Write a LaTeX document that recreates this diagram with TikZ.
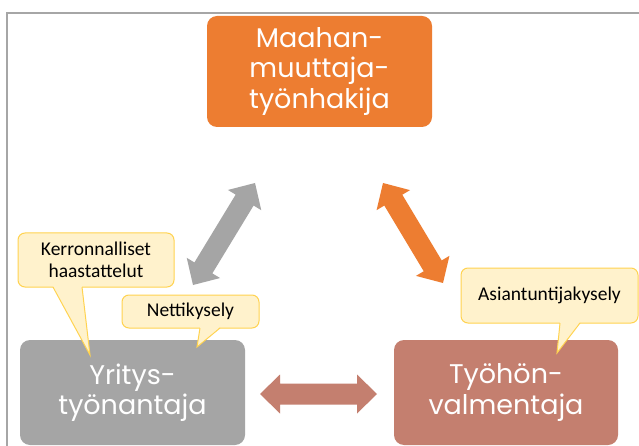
\documentclass[tikz,border=0pt]{standalone}
\usepackage{fontspec}
\setmainfont{Carlito}
\newfontfamily\rolefont{Poppins}
\usetikzlibrary{calc}

\definecolor{frameline}{HTML}{A6A6A6}
\definecolor{roleorange}{HTML}{ED7D31}
\definecolor{rolegray}{HTML}{A5A5A5}
\definecolor{rolebrown}{HTML}{C47F6F}
\definecolor{notefill}{HTML}{FFF2CC}
\definecolor{noteline}{HTML}{FFD350}

\tikzset{
  role/.style={rectangle, rounded corners=10pt, minimum width=225pt,
    text=white, align=center, inner sep=0pt,
    font=\rolefont\fontsize{27}{30.5}\selectfont},
  note/.style={rectangle, rounded corners=7pt, fill=notefill, draw=noteline,
    line width=1pt, align=center, inner sep=0pt,
    font=\fontsize{19.5}{22}\selectfont},
  notecover/.style={fill=notefill},
  noteedge/.style={draw=noteline, line width=1pt, line join=miter},
}

% double-headed block arrow: colour, start coordinate, end coordinate
\newcommand\blockarrow[3]{%
  \coordinate (ba-s) at ($(#2)!20pt!(#3)$);
  \coordinate (ba-e) at ($(#3)!20pt!(#2)$);
  \fill[#1] (#2)
    -- ($(ba-s)!19.5pt!90:(#3)$) -- ($(ba-s)!10.5pt!90:(#3)$)
    -- ($(ba-e)!10.5pt!-90:(#2)$) -- ($(ba-e)!19.5pt!-90:(#2)$)
    -- (#3)
    -- ($(ba-e)!19.5pt!90:(#2)$) -- ($(ba-e)!10.5pt!90:(#2)$)
    -- ($(ba-s)!10.5pt!-90:(#3)$) -- ($(ba-s)!19.5pt!-90:(#3)$)
    -- cycle;}

\begin{document}
\begin{tikzpicture}[x=1pt, y=-1pt]
  \useasboundingbox (0,0) rectangle (639,446);
  \fill[white] (0,0) rectangle (639,446);

  % frame
  \draw[frameline, line width=1.3pt] (7,446) -- (7,13) -- (639,13);

  % three roles
  \node[role, fill=roleorange, minimum height=111pt] (seeker) at (319.5,71.5)
    {Maahan-\\muuttaja-\\työnhakija};
  \node[role, fill=rolegray, minimum height=105pt] (employer) at (132.5,392.5)
    {Yritys-\\työnantaja};
  \node[role, fill=rolebrown, minimum width=224pt, minimum height=105pt] (coach) at (506,392.5)
    {Työhön-\\valmentaja};

  % relations between the roles
  \coordinate (gA) at (193,285);
  \coordinate (gB) at (255,183);
  \coordinate (oA) at (383,183);
  \coordinate (oB) at (443,283);
  \coordinate (bA) at (260,394);
  \coordinate (bB) at (377,394);
  \blockarrow{rolegray}{gA}{gB}
  \blockarrow{roleorange}{oA}{oB}
  \blockarrow{rolebrown}{bA}{bB}

  % research methods
  \node[note, minimum width=156pt, minimum height=54pt] (interviews) at (96,260)
    {Kerronnalliset\\haastattelut};
  \coordinate (interviews-tip) at (90,355);
  \fill[notecover] (53,286) -- (interviews-tip) -- (82,286) -- cycle;
  \draw[noteedge] (53,287) -- (interviews-tip) -- (82,287);

  \node[note, minimum width=137pt, minimum height=33pt] (websurvey) at (190.5,311.5)
    {Nettikysely};
  \coordinate (websurvey-tip) at (197,347);
  \fill[notecover] (200,327) -- (websurvey-tip) -- (220,327) -- cycle;
  \draw[noteedge] (200,328) -- (websurvey-tip) -- (220,328);

  \node[note, minimum width=177pt, minimum height=55pt] (experts) at (549.5,295.5)
    {Asiantuntijakysely};
  \coordinate (experts-tip) at (557,353);
  \fill[notecover] (560,322) -- (experts-tip) -- (580,322) -- cycle;
  \draw[noteedge] (560,323) -- (experts-tip) -- (580,323);
\end{tikzpicture}
\end{document}
